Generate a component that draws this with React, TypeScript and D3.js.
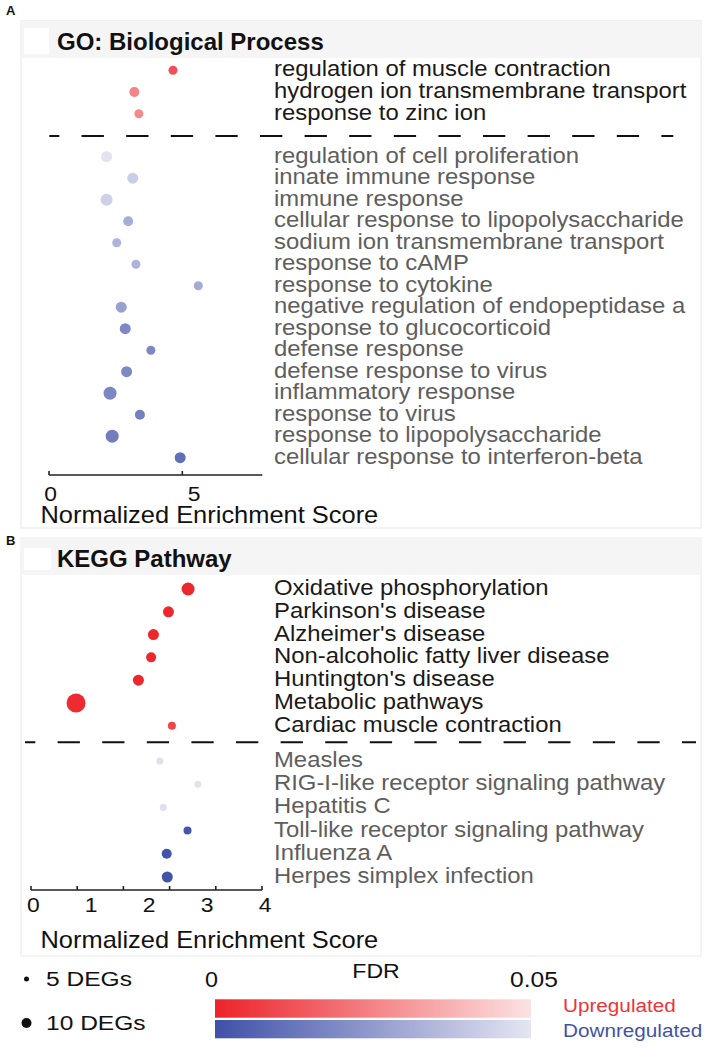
import React from 'react';
import * as d3 from 'd3';

// ---------- data ----------
const goUpTerms = ["regulation of muscle contraction", "hydrogen ion transmembrane transport", "response to zinc ion"];
const goUpNES = [4.65, 3.2, 3.37];
const goUpFDR = [0.012, 0.0255, 0.027];
const goUpDEGs = [9, 10, 9];

const goDownTerms = [
  "regulation of cell proliferation", "innate immune response", "immune response",
  "cellular response to lipopolysaccharide", "sodium ion transmembrane transport", "response to cAMP",
  "response to cytokine", "negative regulation of endopeptidase a", "response to glucocorticoid",
  "defense response", "defense response to virus", "inflammatory response", "response to virus",
  "response to lipopolysaccharide", "cellular response to interferon-beta"];
const goDownNES = [2.16, 3.14, 2.16, 2.97, 2.54, 3.26, 5.6, 2.71, 2.86, 3.82, 2.91, 2.29, 3.41, 2.37, 4.92];
const goDownFDR = [0.049, 0.042, 0.043, 0.031, 0.033, 0.033, 0.03, 0.027, 0.019, 0.019, 0.019, 0.018, 0.016, 0.015, 0.01];
const goDownDEGs = [11, 11, 12, 10, 9, 9, 9, 11, 11, 9, 11, 13, 10, 13, 11];

const keggUpTerms = ["Oxidative phosphorylation", "Parkinson's disease", "Alzheimer's disease",
  "Non-alcoholic fatty liver disease", "Huntington's disease", "Metabolic pathways", "Cardiac muscle contraction"];
const keggUpNES = [2.72, 2.38, 2.12, 2.08, 1.86, 0.78, 2.44];
const keggUpFDR = [0.001, 0.001, 0.001, 0.001, 0.001, 0.002, 0.009];
const keggUpDEGs = [13, 11, 11, 10, 11, 19, 8];

const keggDownTerms = ["Measles", "RIG-I-like receptor signaling pathway", "Hepatitis C",
  "Toll-like receptor signaling pathway", "Influenza A", "Herpes simplex infection"];
const keggDownNES = [2.23, 2.89, 2.29, 2.71, 2.35, 2.36];
const keggDownFDR = [0.048, 0.049, 0.048, 0.002, 0.001, 0.001];
const keggDownDEGs = [7, 7, 7, 8, 10, 11];

const goTickLabels = [0, 5];
const goTickMarks = [0, 5];
const keggTickLabels = [0, 1, 2, 3, 4];
const keggTickMarks = [0, 0.8, 1.6, 2.4, 3.2, 4];
const fdrTicks = [0, 0.05];
const sizeLegend = [5, 10];

// ---------- scales ----------
const upColor = d3.scaleLinear<string>().domain([0, 0.05]).range(["#ec232a", "#fce2e2"]).interpolate(d3.interpolateRgb).clamp(true);
const downColor = d3.scaleLinear<string>().domain([0, 0.05]).range(["#3f51a8", "#e5e5f2"]).interpolate(d3.interpolateRgb).clamp(true);
const rScale = d3.scaleLinear().domain([0, 10]).range([0, 5]);

const FONT = '"Liberation Sans", Arial, Helvetica, sans-serif';

function ST({ x, y, sx = 1, size, anchor = 'start', weight = 'normal', fill = '#111', children }: any) {
  return (
    <text transform={`translate(${x},${y}) scale(${sx},1)`} fontSize={size} fontFamily={FONT}
      textAnchor={anchor} fontWeight={weight} fill={fill}>{children}</text>
  );
}

function Panel({ cfg }: any) {
  const x = d3.scaleLinear().domain(cfg.xDomain).range(cfg.xRange);
  const xl = d3.scaleLinear().domain(cfg.labelDomain).range(cfg.labelRange);
  const yUp = d3.scalePoint<string>().domain(cfg.upTerms).range(cfg.upRange);
  const yDown = d3.scalePoint<string>().domain(cfg.downTerms).range(cfg.downRange);
  const up = cfg.upTerms.map((t: string, i: number) => ({ t, nes: cfg.upNES[i], fdr: cfg.upFDR[i], n: cfg.upDEGs[i] }));
  const down = cfg.downTerms.map((t: string, i: number) => ({ t, nes: cfg.downNES[i], fdr: cfg.downFDR[i], n: cfg.downDEGs[i] }));
  const labelX = 274;
  return (
    <g>
      <rect x={cfg.left} y={cfg.top} width={cfg.right - cfg.left} height={cfg.bottom - cfg.top} fill="#fff" stroke="#ececec" strokeWidth={1.2} />
      <rect x={cfg.left} y={cfg.top} width={cfg.right - cfg.left} height={cfg.stripBottom - cfg.top} fill="#f5f5f5" />
      <rect x={cfg.sq[0]} y={cfg.sq[1]} width={cfg.sq[2]} height={cfg.sq[3]} fill="#fff" />
      <text x={6} y={cfg.letterY} fontFamily={FONT} fontWeight="bold" fontSize={13} fill="#111">{cfg.letter}</text>
      <ST x={57} y={cfg.titleY} size={24} weight="bold" fill="#111">{cfg.title}</ST>

      <line x1={cfg.dashX[0]} x2={cfg.dashX[1]} y1={cfg.dashY} y2={cfg.dashY} stroke="#111" strokeWidth={2}
        strokeDasharray="22.3 22.3" strokeDashoffset={cfg.dashOffset} />

      {up.map((d: any) => (
        <g key={d.t}>
          <circle cx={x(d.nes)} cy={yUp(d.t)} r={rScale(d.n)} fill={upColor(d.fdr)} />
          <ST x={labelX} y={(yUp(d.t) as number) + 6} sx={1.11} size={21.5} fill="#1a1a1a">{d.t}</ST>
        </g>
      ))}
      {down.map((d: any) => (
        <g key={d.t}>
          <circle cx={x(d.nes)} cy={yDown(d.t)} r={rScale(d.n)} fill={downColor(d.fdr)} />
          <ST x={labelX} y={(yDown(d.t) as number) + 6} sx={1.11} size={21.5} fill="#5e5e5e">{d.t}</ST>
        </g>
      ))}

      <line x1={cfg.xRange[0]} x2={cfg.xRange[1]} y1={cfg.axisY} y2={cfg.axisY} stroke="#222" strokeWidth={1.6} />
      {cfg.tickMarks.map((t: number) => (
        <line key={'m' + t} x1={x(t)} x2={x(t)} y1={cfg.axisY} y2={cfg.axisY - 4} stroke="#222" strokeWidth={1.6} />
      ))}
      {cfg.tickLabels.map((t: number) => (
        <ST key={'l' + t} x={xl(t)} y={cfg.tickLabelY} sx={1.09} size={21} anchor="middle" fill="#111">{String(t)}</ST>
      ))}
      <ST x={40.5} y={cfg.axisTitleY} sx={1.06} size={24} fill="#111">Normalized Enrichment Score</ST>
    </g>
  );
}

const panelA = {
  letter: 'A', letterY: 15, title: 'GO: Biological Process',
  top: 20.7, bottom: 528, left: 21, right: 701, stripBottom: 58, sq: [24, 28, 25, 26], titleY: 50,
  xDomain: [0, 8], xRange: [49, 262.3], axisY: 475, tickLabelY: 500.7, axisTitleY: 523,
  labelDomain: [0, 5], labelRange: [50.7, 194],
  tickMarks: goTickMarks, tickLabels: goTickLabels,
  upTerms: goUpTerms, upNES: goUpNES, upFDR: goUpFDR, upDEGs: goUpDEGs,
  downTerms: goDownTerms, downNES: goDownNES, downFDR: goDownFDR, downDEGs: goDownDEGs,
  upRange: [70.3, 113.7], downRange: [156.7, 457.7],
  dashY: 136, dashX: [49.3, 673.3], dashOffset: 12.3,
};

const panelB = {
  letter: 'B', letterY: 545, title: 'KEGG Pathway',
  top: 538, bottom: 956, left: 21, right: 701, stripBottom: 575, sq: [24, 548, 27, 22], titleY: 567.3,
  xDomain: [0, 4], xRange: [31, 262], axisY: 890, tickLabelY: 912.3, axisTitleY: 948.3,
  labelDomain: [0, 4], labelRange: [33.3, 265],
  tickMarks: keggTickMarks, tickLabels: keggTickLabels,
  upTerms: keggUpTerms, upNES: keggUpNES, upFDR: keggUpFDR, upDEGs: keggUpDEGs,
  downTerms: keggDownTerms, downNES: keggDownNES, downFDR: keggDownFDR, downDEGs: keggDownDEGs,
  upRange: [589, 725.7], downRange: [761, 877],
  dashY: 742.3, dashX: [25, 696], dashOffset: 12,
};

function Legend() {
  const fx = d3.scaleLinear().domain([fdrTicks[0], fdrTicks[1]]).range([215, 531]);
  const stops = d3.range(0, 11).map(i => fdrTicks[0] + (fdrTicks[1] - fdrTicks[0]) * i / 10);
  const sizeY = d3.scalePoint<number>().domain(sizeLegend).range([979, 1023]);
  return (
    <g>
      <defs>
        <linearGradient id="gUp" x1="0" x2="1" y1="0" y2="0">
          {stops.map((s, i) => <stop key={i} offset={`${i * 10}%`} stopColor={upColor(s)} />)}
        </linearGradient>
        <linearGradient id="gDown" x1="0" x2="1" y1="0" y2="0">
          {stops.map((s, i) => <stop key={i} offset={`${i * 10}%`} stopColor={downColor(s)} />)}
        </linearGradient>
      </defs>
      {sizeLegend.map(n => (
        <g key={n}>
          <circle cx={26.5} cy={sizeY(n)} r={rScale(n)} fill="#111" />
          <ST x={46} y={(sizeY(n) as number) + 7} sx={1.17} size={21} fill="#111">{`${n} DEGs`}</ST>
        </g>
      ))}
      <ST x={(fx(fdrTicks[0]) + fx(fdrTicks[1])) / 2 + 3} y={978} sx={1.1} size={21} anchor="middle" fill="#111">FDR</ST>
      <ST x={fx(fdrTicks[0]) - 10} y={987} sx={1.06} size={22} anchor="start" fill="#111">{String(fdrTicks[0])}</ST>
      <ST x={fx(fdrTicks[1]) + 27} y={987} sx={1.12} size={22} anchor="end" fill="#111">{String(fdrTicks[1])}</ST>
      <rect x={fx(fdrTicks[0])} y={999.3} width={fx(fdrTicks[1]) - fx(fdrTicks[0])} height={18.4} fill="url(#gUp)" />
      <rect x={fx(fdrTicks[0])} y={1020} width={fx(fdrTicks[1]) - fx(fdrTicks[0])} height={18.3} fill="url(#gDown)" />
      <ST x={563} y={1012} sx={1.09} size={19} fill="#ec3439">Upregulated</ST>
      <ST x={563} y={1036.7} sx={1.09} size={19} fill="#4451a8">Downregulated</ST>
    </g>
  );
}

export default function App() {
  return (
    <svg width={708} height={1048} style={{ position: 'absolute', left: 0, top: 0, background: '#fff' }}>
      <rect width={708} height={1048} fill="#fff" />
      <Panel cfg={panelA} />
      <Panel cfg={panelB} />
      <Legend />
    </svg>
  );
}
